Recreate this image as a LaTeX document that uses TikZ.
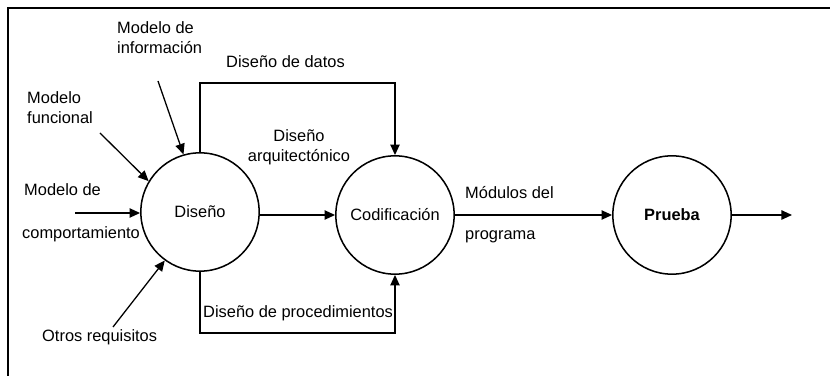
\documentclass[tikz,border=0pt]{standalone}
\usepackage{fontspec}
\setmainfont{Liberation Sans}
\usepackage{tikz}
\usetikzlibrary{positioning}
\usetikzlibrary{arrows.meta}

\begin{document}
\begin{tikzpicture}[x=0.03cm,y=-0.03cm]
	\tikzset{>={Triangle[length=9pt,width=8pt]}}
	\tikzset{proc/.style={draw,circle,line width=1.3pt,minimum size=3.55cm,inner sep=0,font=\fontsize{14}{17}\selectfont}}
	\tikzset{lbl/.style={inner sep=0,font=\fontsize{14}{17}\selectfont,align=left}}
	\tikzset{flow/.style={line width=1.1pt,->}}
	\useasboundingbox (0,0) rectangle (830,376);
	
	% Frame (only top and left edge visible)
	\draw[line width=1.4pt] (830,8) -- (8,8) -- (8,376);
	
	% Process circles
	\node (disenio) at (200,212) [proc] {Diseño};
	\node (codif) at (395,215) [proc] {Codificación};
	\node (prueba) at (672,215) [proc,font=\fontsize{14}{17}\selectfont\bfseries] {Prueba};
	
	% Annotate the inputs of Diseño
	\node[lbl, anchor=west] (minfo) at (117,38) {Modelo de\\información};
	\node[lbl, anchor=west] (mfunc) at (27,108) {Modelo\\funcional};
	\node[lbl, anchor=west] (mcomp1) at (24,190) {Modelo de};
	\node[lbl, anchor=west] (mcomp2) at (22,234) {comportamiento};
	\node[lbl, anchor=west] (otros) at (42,337) {Otros requisitos};
	
	\coordinate (infoStart) at (158,81);
	\coordinate (funcStart) at (100,133);
	\coordinate (compStart) at (75,213);
	\coordinate (otrosStart) at (113,327);
	\draw[flow] (infoStart) -- (disenio.106);
	\draw[flow] (funcStart) -- (disenio.149);
	\draw[flow] (compStart) -- (disenio.west |- compStart);
	\draw[flow] (otrosStart) -- (disenio.234);
	
	% Flows between the processes
	\def\yDatos{83}
	\def\yProc{333}
	\node[lbl, anchor=west] (datos_t) at (226,62) {Diseño de datos};
	\draw[flow] (disenio.north) -- (disenio.north |- 0,\yDatos) -| (codif.north);
	
	\node[lbl, anchor=west] (proc_t) at (203,313) {Diseño de procedimientos};
	\draw[flow] (disenio.south) -- (disenio.south |- 0,\yProc) -| (codif.south);
	
	\node[lbl, align=center] (arq_t) at (299,147) {Diseño\\arquitectónico};
	\draw[flow] (disenio.east |- codif) -- (codif.west);
	
	\node[lbl, anchor=west] (mod_t) at (465,193) {Módulos del};
	\node[lbl, anchor=west] (prog_t) at (465,237) {programa};
	\draw[flow] (codif.east) -- (prueba.west);
	
	\coordinate (salida) at (792,215);
	\draw[flow] (prueba.east) -- (salida);
	
\end{tikzpicture}
\end{document}
